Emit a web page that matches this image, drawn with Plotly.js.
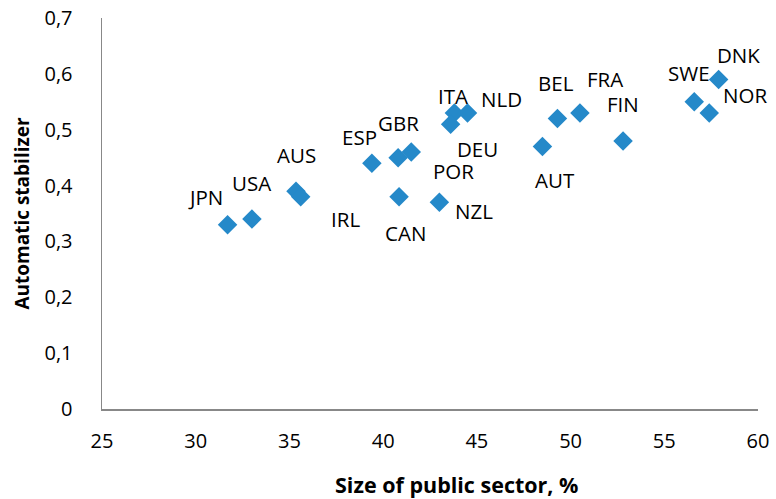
<!DOCTYPE html>
<html>
<head>
<meta charset="utf-8">
<script src="https://cdn.plot.ly/plotly-3.0.1.min.js"></script>
<style>html,body{margin:0;padding:0;background:#fff;}#chart{width:776px;height:499px;}</style>
</head>
<body>
<div id="chart"></div>
<script>
const countries = ["JPN","USA","AUS","IRL","ESP","GBR","POR","CAN","ITA","NLD","DEU","NZL","AUT","BEL","FRA","FIN","SWE","NOR","DNK"];
const publicSector = [31.7,33.0,35.35,35.6,39.4,40.8,41.5,40.85,43.8,44.5,43.6,43.0,48.5,49.3,50.5,52.8,56.6,57.4,57.9];
const stabilizer = [0.33,0.34,0.39,0.38,0.44,0.45,0.46,0.38,0.53,0.53,0.51,0.37,0.47,0.52,0.53,0.48,0.55,0.53,0.59];

// label pixel offsets (dx right, dy down) relative to each marker
const labelDx = [-22,0,1,45,-12,0,42,6,-1,34,27,35,13,-1,25,0,-5,36,20];
const labelDy = [-28,-36,-36,22,-26,-35,19,36,-17,-14,25,9,34,-36,-34,-37,-29,-18,-24];

const font = "Open Sans, Noto Sans, sans-serif";

const annotations = countries.map((c,i)=>({
  x: publicSector[i], y: stabilizer[i], xref:'x', yref:'y',
  text: c, showarrow:false, xshift: labelDx[i], yshift: -labelDy[i],
  font:{family:font, size:20.5, color:'#000'}
}));
annotations.push({
  xref:'paper', yref:'paper', x:0.541, y:0, xanchor:'center', yanchor:'middle',
  yshift:-75, showarrow:false, text:'<b>Size of public sector, %</b>',
  font:{family:font, size:21.5, color:'#000'}
});

Plotly.newPlot('chart', [{
  type:'scatter', mode:'markers',
  x: publicSector, y: stabilizer, text: countries,
  marker:{symbol:'diamond', size:15, color:'#2589C9'},
  hoverinfo:'text+x+y'
}], {
  width:776, height:499,
  margin:{l:102, r:18, t:18, b:90},
  paper_bgcolor:'#fff', plot_bgcolor:'#fff',
  separators:',.',
  showlegend:false,
  font:{family:font, size:20, color:'#000'},
  xaxis:{
    range:[25,60], dtick:5, tick0:25, showgrid:false, zeroline:false,
    showline:true, linecolor:'#888', linewidth:1.5, ticks:'', ticklabelstandoff:13,
    tickfont:{family:font, size:20, color:'#000'}
  },
  yaxis:{
    range:[0,0.7], dtick:0.1, tick0:0, showgrid:false, zeroline:false,
    showline:true, linecolor:'#888', linewidth:1.5, ticks:'', ticklabelstandoff:24,
    tickfont:{family:font, size:20, color:'#000'},
    title:{text:'<b>Automatic stabilizer</b>', font:{family:font, size:19, color:'#000'}, standoff:10}
  },
  annotations: annotations
}, {displayModeBar:false, staticPlot:true});
</script>
</body>
</html>
